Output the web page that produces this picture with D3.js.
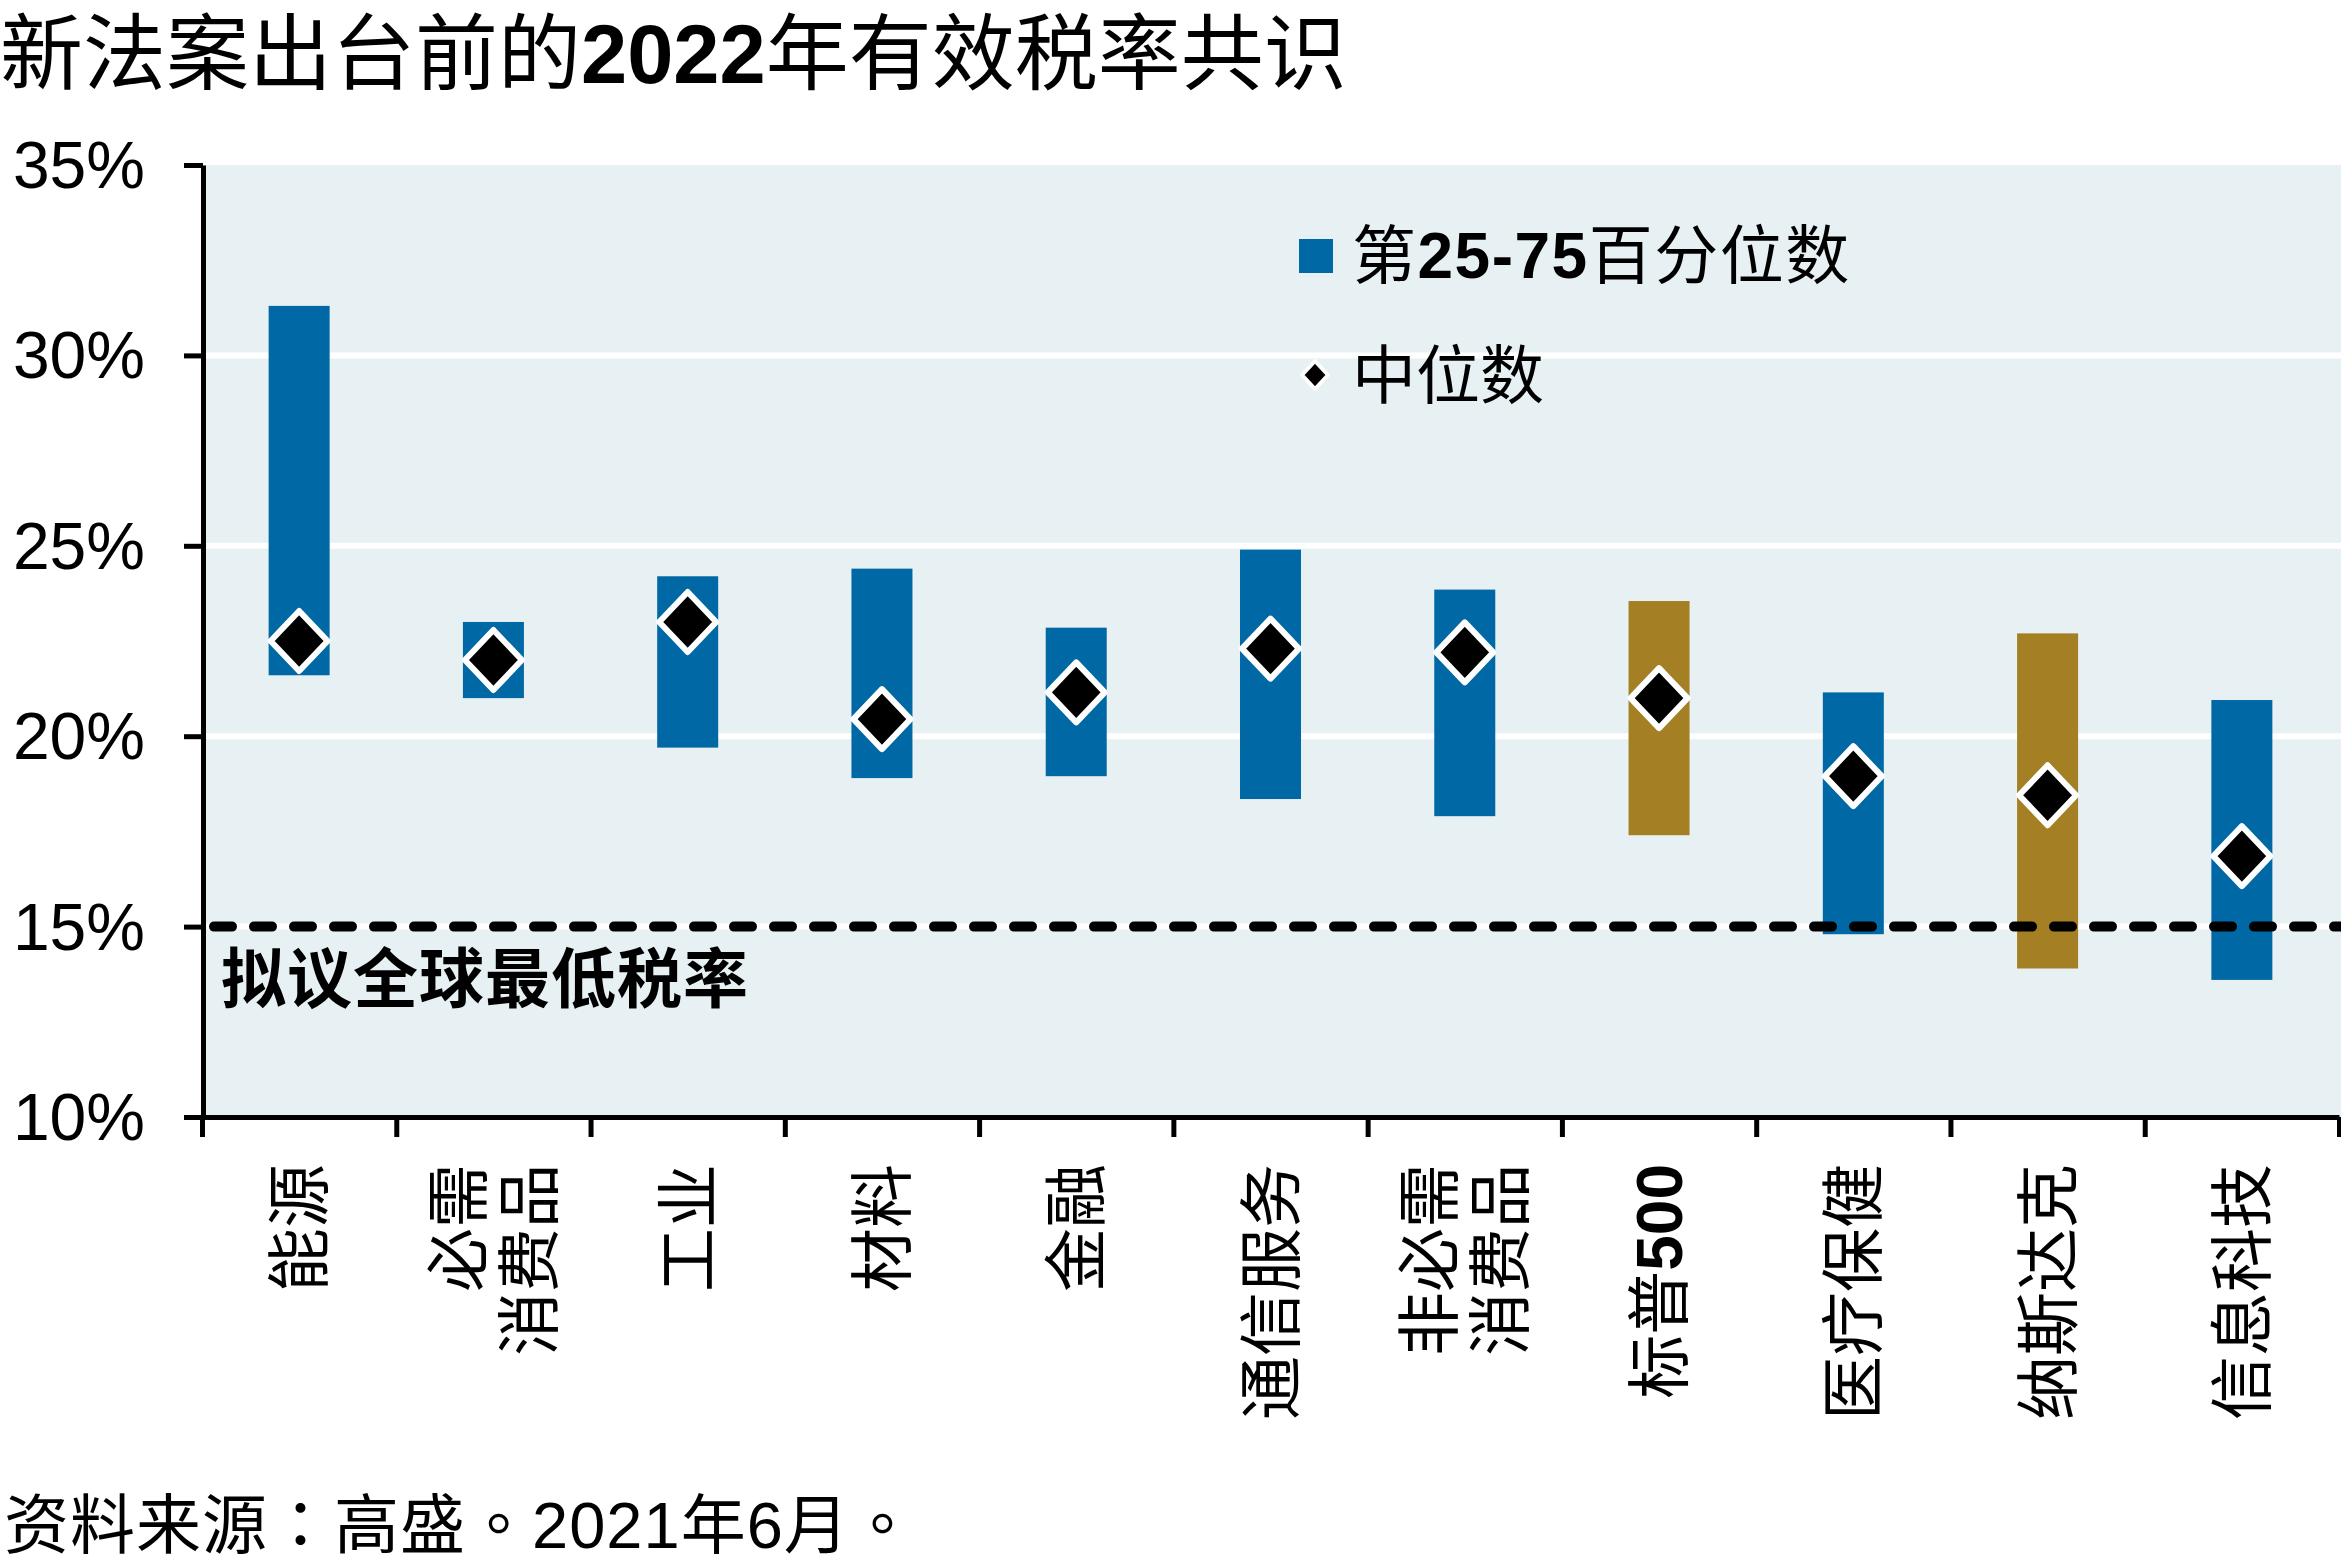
<!DOCTYPE html>
<html>
<head>
<meta charset="utf-8">
<script src="https://cdn.jsdelivr.net/npm/d3@7"></script>
<style>
  html, body { margin: 0; padding: 0; background: #ffffff; }
  svg { display: block; }
  text { font-family: "Liberation Sans", Arial, "Noto Sans CJK SC", sans-serif; fill: #000; }
</style>
</head>
<body>
<script>
// ---------- data ----------
const categories = ["能源", "必需消费品", "工业", "材料", "金融", "通信服务", "非必需消费品", "标普500", "医疗保健", "纳斯达克", "信息科技"];
const categoryLabelLines = [["能源"], ["必需", "消费品"], ["工业"], ["材料"], ["金融"], ["通信服务"], ["非必需", "消费品"], ["标普500"], ["医疗保健"], ["纳斯达克"], ["信息科技"]];
const groupType = ["sector", "sector", "sector", "sector", "sector", "sector", "sector", "index", "sector", "index", "sector"];
const p25 = [21.6, 21.0, 19.7, 18.9, 18.95, 18.35, 17.9, 17.4, 14.8, 13.9, 13.6];
const p75 = [31.3, 23.0, 24.2, 24.4, 22.85, 24.9, 23.85, 23.55, 21.15, 22.7, 20.95];
const median = [22.5, 22.0, 23.0, 20.45, 21.15, 22.3, 22.2, 21.0, 18.95, 18.45, 16.85];
const yTicks = [10, 15, 20, 25, 30, 35];
const minTaxRate = 15;
const titleText = "新法案出台前的2022年有效税率共识";
const legendRangeText = "第25-75百分位数";
const legendMedianText = "中位数";
const minTaxLabel = "拟议全球最低税率";
const sourceText = "资料来源：高盛。2021年6月。";

// ---------- layout ----------
const W = 2341, H = 1561;
const colors = { sector: "#0068A4", index: "#A47F23" };
const bgColor = "#E7F0F3";

const svg = d3.select("body").append("svg").attr("width", W).attr("height", H);
svg.append("rect").attr("width", W).attr("height", H).attr("fill", "#fff");

const x = d3.scaleBand().domain(categories).range([202, 2339]).padding(0);
const xEdges = d3.scaleLinear().domain([0, categories.length]).range([202, 2339]);
const y = d3.scaleLinear().domain([10, 35]).range([1117, 165]);

// helper: ASCII runs bold or not
function richText(sel, str, boldAscii) {
  const parts = str.match(/[\x20-\x7E]+|[^\x20-\x7E]+/g) || [];
  parts.forEach(p => {
    const ascii = /^[\x20-\x7E]+$/.test(p);
    sel.append("tspan").text(p).attr("font-weight", ascii && boldAscii ? "bold" : "normal");
  });
}

// title
const title = svg.append("text").attr("x", 0).attr("y", 83).attr("font-size", 83);
richText(title, titleText, true);

// plot background
svg.append("rect")
  .attr("x", 203).attr("y", y(35))
  .attr("width", W - 203).attr("height", y(10) - y(35))
  .attr("fill", bgColor);

// white gridlines
svg.append("g").selectAll("line").data(yTicks.filter(t => t > 10 && t < 35)).join("line")
  .attr("x1", 206).attr("x2", W)
  .attr("y1", d => y(d)).attr("y2", d => y(d))
  .attr("stroke", "#fff").attr("stroke-width", 6);

// bars (25-75 percentile)
const barW = 61;
svg.append("g").selectAll("rect").data(categories).join("rect")
  .attr("x", (d) => x(d) + x.bandwidth() / 2 - barW / 2)
  .attr("width", barW)
  .attr("y", (d, i) => y(p75[i]))
  .attr("height", (d, i) => y(p25[i]) - y(p75[i]))
  .attr("fill", (d, i) => colors[groupType[i]]);

// dashed min tax line
svg.append("line")
  .attr("x1", 214).attr("x2", W)
  .attr("y1", y(minTaxRate)).attr("y2", y(minTaxRate))
  .attr("stroke", "#000").attr("stroke-width", 10)
  .attr("stroke-dasharray", "18 22").attr("stroke-linecap", "round");

svg.append("text")
  .attr("x", 221).attr("y", 1002)
  .attr("font-size", 65).attr("font-weight", "bold").attr("letter-spacing", 1)
  .text(minTaxLabel);

// median diamonds
const diamond = "M0,-30L28.5,0L0,30L-28.5,0Z";
svg.append("g").selectAll("path").data(categories).join("path")
  .attr("transform", (d, i) => `translate(${x(d) + x.bandwidth() / 2},${y(median[i])})`)
  .attr("d", diamond)
  .attr("fill", "#000").attr("stroke", "#fff").attr("stroke-width", 6)
  .attr("stroke-linejoin", "round");

// y axis
const yAxis = svg.append("g").attr("transform", "translate(203,0)")
  .call(d3.axisLeft(y).tickValues(yTicks).tickSize(19).tickSizeOuter(0).tickPadding(39).tickFormat(d => d + "%"));
yAxis.select(".domain").attr("stroke", "#000").attr("stroke-width", 5);
yAxis.selectAll(".tick line").attr("stroke", "#000").attr("stroke-width", 5);
yAxis.selectAll(".tick text").attr("font-size", 66).attr("font-family", "'Liberation Sans', Arial, sans-serif").attr("dy", "0.34em");

// x axis (ticks at band edges)
const xAxis = svg.append("g").attr("transform", `translate(0,${y(10)})`)
  .call(d3.axisBottom(xEdges).tickValues(d3.range(categories.length + 1)).tickSize(20).tickSizeOuter(0).tickFormat(""));
xAxis.select(".domain").attr("stroke", "#000").attr("stroke-width", 5);
xAxis.selectAll(".tick line").attr("stroke", "#000").attr("stroke-width", 5);

// x labels (rotated)
const labelTop = 1164;
const lineGap = 71;
categories.forEach((c, i) => {
  const lines = categoryLabelLines[i];
  const g = svg.append("g").attr("transform", `translate(${x(c) + x.bandwidth() / 2},${labelTop}) rotate(-90)`);
  lines.forEach((ln, j) => {
    const off = (j - (lines.length - 1) / 2) * lineGap;
    const t = g.append("text").attr("x", 0).attr("y", off + 23)
      .attr("text-anchor", "end").attr("font-size", 64);
    richText(t, ln, true);
  });
});

// legend
svg.append("rect").attr("x", 1299).attr("y", 239).attr("width", 34).attr("height", 34).attr("fill", colors.sector);
const lt1 = svg.append("text").attr("x", 1352).attr("y", 278).attr("font-size", 64).attr("letter-spacing", 1.5);
richText(lt1, legendRangeText, true);
svg.append("path").attr("transform", "translate(1315,375)").attr("d", "M0,-14L13,0L0,14L-13,0Z")
  .attr("fill", "#000").attr("stroke", "#fff").attr("stroke-width", 4).attr("stroke-linejoin", "round");
svg.append("text").attr("x", 1352).attr("y", 398).attr("font-size", 64).text(legendMedianText);

// source
const src = svg.append("text").attr("x", 4).attr("y", 1548).attr("font-size", 65)
  .attr("letter-spacing", 1)
  .style("font-family", "'Liberation Sans', Arial, 'Noto Sans CJK TC', 'Noto Sans CJK SC', sans-serif");
richText(src, sourceText, false);
</script>
</body>
</html>
